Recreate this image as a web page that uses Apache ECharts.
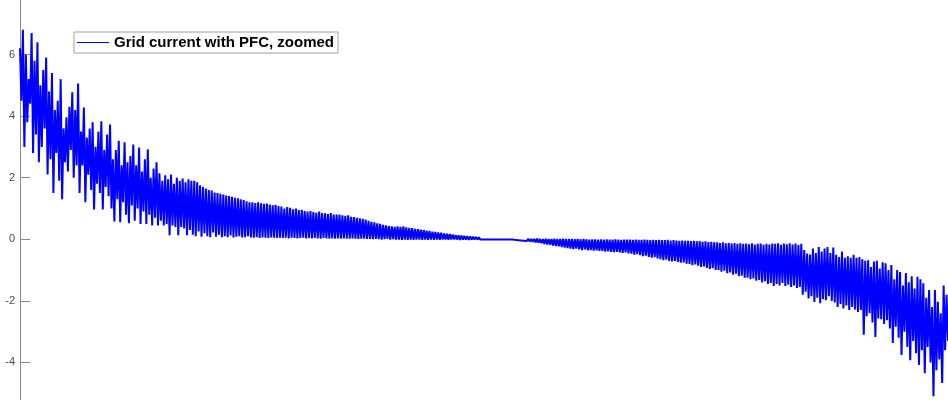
<!DOCTYPE html>
<html>
<head>
<meta charset="utf-8">
<script src="https://cdn.jsdelivr.net/npm/echarts@6/dist/echarts.min.js"></script>
<style>
html,body{margin:0;padding:0;background:#fff;}
#chart{width:948px;height:400px;}
</style>
</head>
<body>
<div id="chart"></div>
<script>
// Local maxima of each switching cycle (A), read left to right
const peaks = [
  6.2, 6.8, 6.0, 5.2, 6.7, 5.8, 6.4, 5.0, 5.5, 5.9,
  4.8, 5.4, 4.2, 4.5, 5.2, 3.6, 3.96, 4.3, 4.77, 4.2,
  5.06, 3.5, 4.28, 3.3, 3.6, 3.8, 3.0, 3.5, 3.83, 2.9,
  3.4, 3.73, 2.6, 2.9, 3.2, 2.4, 3.15, 2.5, 2.7, 3.08,
  2.4, 2.98, 2.2, 2.6, 2.92, 2.0, 2.3, 2.5, 2.14, 1.9,
  2.08, 1.95, 2.1, 1.8, 2.0, 1.9, 1.97, 1.85, 1.95, 1.9,
  1.9, 1.85, 1.75, 1.7, 1.65, 1.6, 1.58, 1.52, 1.5, 1.48,
  1.45, 1.42, 1.4, 1.38, 1.35, 1.33, 1.3, 1.27, 1.23, 1.2,
  1.2, 1.18, 1.2, 1.17, 1.15, 1.16, 1.13, 1.1, 1.12, 1.08,
  1.06, 1.0, 1.05, 1.02, 0.97, 1.0, 0.95, 0.96, 0.92, 0.9,
  0.92, 0.88, 0.86, 0.9, 0.85, 0.84, 0.82, 0.85, 0.8, 0.8,
  0.8, 0.78, 0.76, 0.78, 0.73, 0.72, 0.7, 0.68, 0.66, 0.64,
  0.6, 0.57, 0.55, 0.52, 0.5, 0.47, 0.45, 0.43, 0.42, 0.4,
  0.42, 0.4, 0.42, 0.39, 0.37, 0.36, 0.34, 0.33, 0.31, 0.3,
  0.28, 0.27, 0.25, 0.24, 0.22, 0.21, 0.19, 0.18, 0.17, 0.15,
  0.14, 0.13, 0.12, 0.11, 0.1, 0.09, 0.08, 0.07, 0.06, 0.05,
  0.05, 0.04, 0.04, 0.03, 0.03, 0.02, 0.02, 0.01, 0.01, 0.01,
  0.01, 0.01, 0.01, 0.01, 0.01, 0.02, 0.01, 0.01, 0.02, 0.01,
  0.01, 0.02, 0.01, 0.01, 0.02, 0.01, 0.01, 0.02, 0.01, 0.01,
  0.01, 0.0, 0.01, 0.0, 0.01, 0.0, -0.01, 0.0, 0.0, -0.01,
  0.0, -0.01, 0.0, -0.01, -0.01, 0.0, -0.01, -0.02, -0.01, -0.01,
  -0.01, -0.02, -0.01, -0.02, -0.02, -0.01, -0.02, -0.03, -0.02, -0.03,
  -0.02, -0.03, -0.03, -0.02, -0.04, -0.03, -0.04, -0.05, -0.04, -0.05,
  -0.05, -0.06, -0.05, -0.07, -0.06, -0.08, -0.07, -0.09, -0.08, -0.1,
  -0.1, -0.12, -0.1, -0.13, -0.12, -0.14, -0.12, -0.15, -0.13, -0.15,
  -0.14, -0.16, -0.13, -0.17, -0.15, -0.14, -0.18, -0.15, -0.17, -0.14,
  -0.15, -0.13, -0.18, -0.14, -0.16, -0.13, -0.17, -0.14, -0.19, -0.15,
  -0.35, -0.46, -0.5, -0.3, -0.45, -0.25, -0.4, -0.3, -0.25, -0.45,
  -0.27, -0.5, -0.58, -0.4, -0.6, -0.55, -0.6, -0.5, -0.6, -0.58,
  -0.65, -0.7, -0.68, -0.9, -0.72, -0.7, -0.95, -0.75, -0.78, -1.0,
  -0.84, -1.3, -1.0, -1.06, -1.5, -1.1, -1.4, -1.2, -1.6, -1.22,
  -1.3, -1.43, -1.9, -1.65, -2.2, -1.65, -2.03, -2.4, -1.5, -1.8
];
// Local minima of each switching cycle (A)
const troughs = [
  4.5, 3.0, 3.8, 4.4, 2.8, 3.4, 2.5, 3.0, 3.6, 2.1,
  2.6, 1.5, 2.8, 1.9, 1.3, 2.5, 2.2, 2.9, 2.0, 2.4,
  1.5, 2.4, 1.2, 2.1, 1.6, 0.97, 1.8, 1.5, 0.97, 1.7,
  1.4, 1.0, 0.58, 1.3, 0.55, 1.2, 0.8, 0.52, 1.1, 0.6,
  1.0, 0.5, 0.9, 0.5, 0.8, 0.45, 0.7, 0.45, 0.6, 0.45,
  0.5, 0.13, 0.45, 0.4, 0.13, 0.4, 0.35, 0.13, 0.3, 0.15,
  0.1, 0.25, 0.08, 0.2, 0.1, 0.07, 0.22, 0.08, 0.15, 0.07,
  0.1, 0.07, 0.12, 0.06, 0.08, 0.1, 0.06, 0.07, 0.1, 0.06,
  0.05, 0.07, 0.04, 0.06, 0.05, 0.04, 0.06, 0.05, 0.04, 0.05,
  0.04, 0.05, 0.03, 0.05, 0.04, 0.03, 0.04, 0.05, 0.03, 0.04,
  0.03, 0.04, 0.03, 0.02, 0.04, 0.03, 0.02, 0.03, 0.02, 0.03,
  0.02, 0.03, 0.02, 0.02, 0.03, 0.02, 0.01, 0.02, 0.02, 0.01,
  0.01, 0.0, 0.01, 0.0, -0.01, 0.0, 0.01, -0.01, 0.0, -0.01,
  -0.01, -0.02, -0.01, -0.02, -0.01, -0.02, -0.01, -0.01, -0.02, -0.01,
  -0.02, -0.01, -0.02, -0.01, -0.02, -0.01, -0.01, -0.02, -0.01, -0.01,
  -0.01, -0.02, -0.01, -0.01, -0.02, -0.01, -0.01, -0.01, -0.01, -0.01,
  -0.01, -0.01, -0.01, -0.01, -0.01, -0.01, -0.01, -0.01, -0.01, -0.01,
  -0.02, -0.03, -0.04, -0.05, -0.06, -0.07, -0.08, -0.1, -0.11, -0.13,
  -0.15, -0.17, -0.18, -0.2, -0.22, -0.23, -0.25, -0.27, -0.29, -0.3,
  -0.32, -0.3, -0.33, -0.35, -0.33, -0.36, -0.35, -0.37, -0.36, -0.38,
  -0.38, -0.4, -0.39, -0.41, -0.42, -0.41, -0.43, -0.44, -0.43, -0.46,
  -0.47, -0.5, -0.48, -0.52, -0.55, -0.53, -0.57, -0.6, -0.58, -0.62,
  -0.65, -0.68, -0.66, -0.7, -0.72, -0.7, -0.74, -0.76, -0.75, -0.79,
  -0.8, -0.84, -0.82, -0.86, -0.9, -0.88, -0.93, -0.96, -0.94, -1.0,
  -1.0, -1.05, -1.02, -1.1, -1.08, -1.15, -1.12, -1.2, -1.18, -1.25,
  -1.25, -1.3, -1.27, -1.35, -1.32, -1.4, -1.36, -1.45, -1.42, -1.52,
  -1.45, -1.5, -1.42, -1.52, -1.48, -1.55, -1.5, -1.58, -1.55, -1.8,
  -1.7, -1.92, -1.85, -2.04, -1.9, -2.08, -1.95, -1.98, -1.85, -2.0,
  -2.05, -2.2, -2.1, -2.25, -2.15, -2.3, -2.2, -2.28, -2.36, -2.3,
  -3.1, -2.5, -2.4, -2.7, -3.17, -2.57, -2.6, -2.75, -2.63, -2.9,
  -3.37, -2.84, -3.2, -3.76, -3.0, -3.5, -3.93, -3.3, -3.7, -4.08,
  -3.6, -4.35, -3.5, -4.0, -5.1, -4.25, -3.9, -4.67, -3.6, -3.3
];
const yTickValues = [-4, -2, 0, 2, 4, 6];
const seriesName = 'Grid current with PFC, zoomed';

const lineData = [];
for (let k = 0; k < peaks.length; k++) {
  lineData.push([2 * k, peaks[k]]);
  lineData.push([2 * k + 1, troughs[k]]);
}

const chart = echarts.init(document.getElementById('chart'), null, {renderer: 'canvas'});
chart.setOption({
  animation: false,
  backgroundColor: '#ffffff',
  grid: {left: 20, right: 0, top: 0, bottom: 0, containLabel: false},
  xAxis: {
    type: 'value', min: 0, max: lineData.length - 1,
    show: false
  },
  yAxis: {
    type: 'value', min: -5.22, max: 7.77,
    axisLine: {show: true, lineStyle: {color: '#8a8a8a', width: 1}},
    axisTick: {show: true, inside: true, length: 10, customValues: yTickValues, lineStyle: {color: '#8a8a8a', width: 1}},
    axisLabel: {show: true, customValues: yTickValues, margin: 5, color: '#4a4a4a', fontSize: 11, fontFamily: 'Liberation Sans, Arial, sans-serif'},
    splitLine: {show: false}
  },
  legend: {
    data: [seriesName],
    left: 74, top: 32,
    orient: 'horizontal',
    icon: 'rect',
    itemWidth: 32, itemHeight: 1,
    padding: [3, 4, 3, 3],
    borderColor: '#a0a0a0', borderWidth: 1,
    backgroundColor: '#ffffff',
    textStyle: {fontWeight: 'bold', fontSize: 15, color: '#000', fontFamily: 'Liberation Sans, Arial, sans-serif', lineHeight: 15}
  },
  series: [{
    name: seriesName,
    type: 'line',
    data: lineData,
    showSymbol: false,
    symbol: 'none',
    lineStyle: {color: '#0000ff', width: 2},
    itemStyle: {color: '#0000ff'}
  }]
});
</script>
</body>
</html>
